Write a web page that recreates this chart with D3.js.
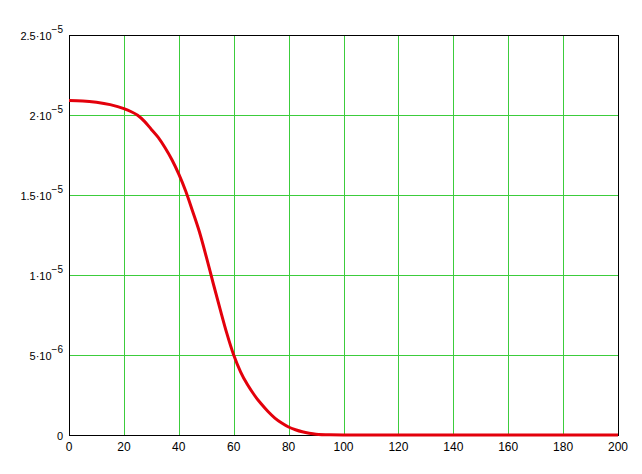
<!DOCTYPE html>
<html><head><meta charset="utf-8">
<script src="https://cdn.jsdelivr.net/npm/d3@7"></script>
<style>body{margin:0;background:#fff}svg{display:block}</style>
</head><body>
<svg id="c" width="642" height="474"></svg>
<script>
const xs = [0,5,10,15,20,22.5,25,27.5,30,32.5,35,37.5,40,42.5,45,47.5,50,52.5,55,57.5,60,62.5,65,67.5,70,72.5,75,77.5,80,82.5,85,87.5,90,95,100,120,140,160,180,200];
const ysMicro = [20.9,20.88,20.8,20.65,20.4,20.22,19.98,19.6,19.1,18.6,17.95,17.2,16.3,15.25,14.0,12.7,11.15,9.5,7.9,6.35,5.0,3.95,3.15,2.5,1.95,1.47,1.06,0.75,0.5,0.33,0.2,0.11,0.05,0.01,0,0,0,0,0,0];
const ys = ysMicro.map(v=>v*1e-6);
const xTicks = [0,20,40,60,80,100,120,140,160,180,200];
const yTicks = [0,5e-6,1e-5,1.5e-5,2e-5,2.5e-5];
const yMant = ["0","5","1","1.5","2","2.5"];
const yExp = ["","−6","−5","−5","−5","−5"];

const svg = d3.select("#c");
const x = d3.scaleLinear().domain([0,200]).range([69,618]);
const y = d3.scaleLinear().domain([0,2.5e-5]).range([435,35]);
const green = "#3ccc3c";

// grid
svg.append("g").selectAll("line").data(xTicks.slice(1,-1)).join("line")
  .attr("x1",d=>x(d)+0.5).attr("x2",d=>x(d)+0.5).attr("y1",35).attr("y2",435)
  .attr("stroke",green).attr("stroke-width",1).attr("shape-rendering","crispEdges");
svg.append("g").selectAll("line").data(yTicks.slice(1,-1)).join("line")
  .attr("y1",d=>Math.round(y(d))+0.5).attr("y2",d=>Math.round(y(d))+0.5).attr("x1",69).attr("x2",618)
  .attr("stroke",green).attr("stroke-width",1).attr("shape-rendering","crispEdges");

// frame
svg.append("rect").attr("x",69.5).attr("y",35.5).attr("width",549).attr("height",400)
  .attr("fill","none").attr("stroke","#000").attr("stroke-width",1).attr("shape-rendering","crispEdges");

// x labels
svg.append("g").selectAll("text").data(xTicks).join("text")
  .attr("x",d=>x(d)).attr("y",451).attr("text-anchor","middle")
  .attr("font-family","Liberation Sans, Arial, sans-serif").attr("font-size",12)
  .attr("fill","#000").text(d=>d);

// y labels
const yl = svg.append("g").selectAll("text").data(yTicks).join("text")
  .attr("x",63).attr("y",d=>y(d)+5).attr("text-anchor","end")
  .attr("font-family","Liberation Sans, Arial, sans-serif").attr("font-size",11).attr("fill","#000");
yl.each(function(d,i){
  const t = d3.select(this);
  if(i===0){ t.text("0"); return; }
  t.append("tspan").text(yMant[i]+"·10");
  t.append("tspan").attr("dy",-7).attr("font-size",10).text(yExp[i]);
});

// curve
const line = d3.line().x((d,i)=>x(xs[i])).y(d=>y(d)).curve(d3.curveMonotoneX);
svg.append("path").datum(ys).attr("d",line).attr("fill","none")
  .attr("stroke","#e3000b").attr("stroke-width",3).attr("stroke-linejoin","round");
</script>
</body></html>
